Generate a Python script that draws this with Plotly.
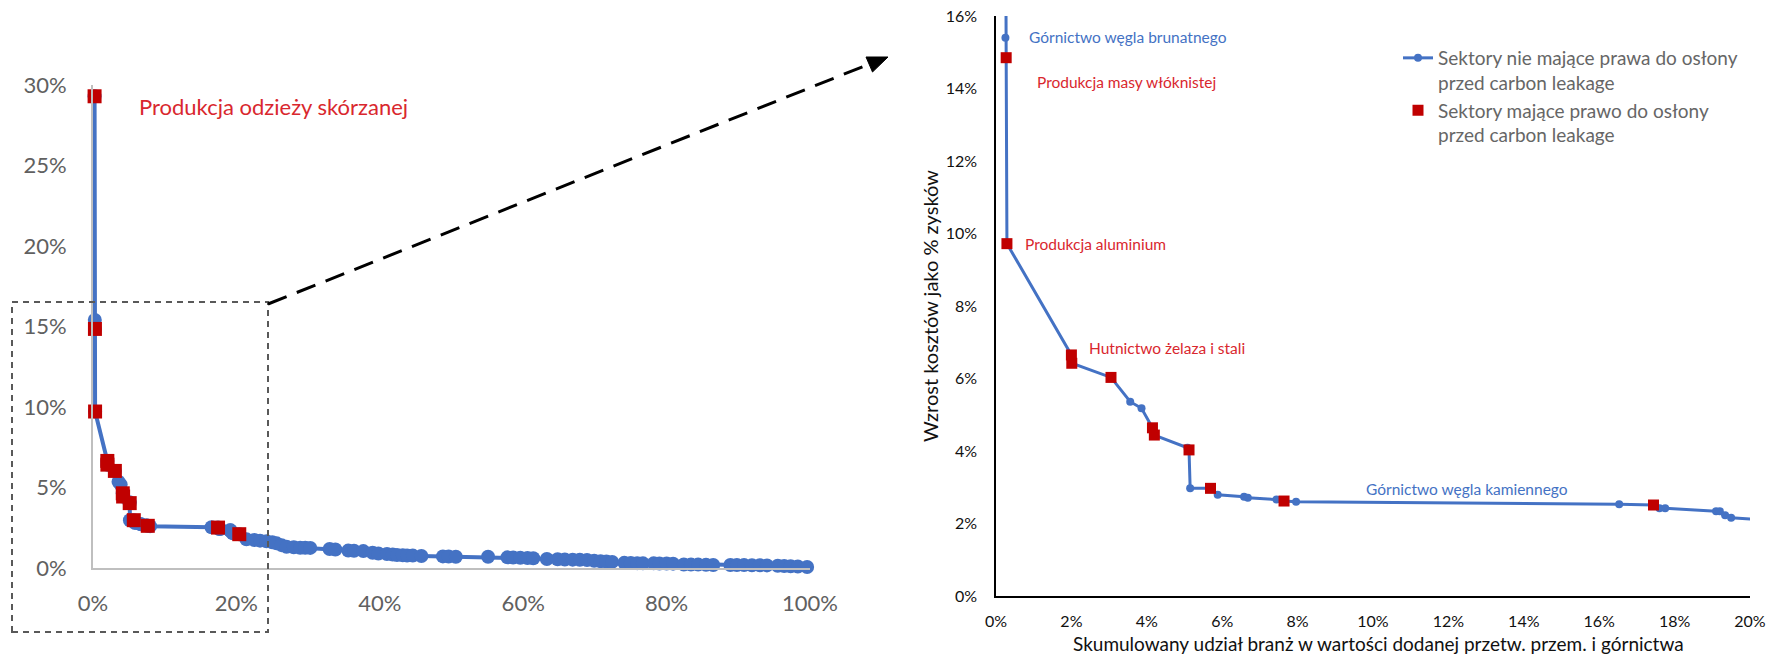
import plotly.graph_objects as go

W, H = 1786, 654

# Sectors ordered by cost increase: cumulative share in value added (%)
cum_share = [
    0.22, 0.25, 0.27, 0.29, 2.00, 2.01, 3.05, 3.56, 3.86, 4.15,
    4.20, 5.08, 5.12, 5.15, 5.69, 5.88, 6.58, 6.68, 7.44, 7.64,
    7.96, 16.53, 17.44, 17.60, 17.75, 19.10, 19.20, 19.34, 19.50, 20.40,
    21.4, 22.5, 23.3, 24.2, 25.0, 25.6, 26.3, 27.0, 28.0, 28.9,
    29.6, 30.3, 33.0, 33.8, 35.6, 36.4, 37.7, 39.0, 39.8, 41.0,
    41.8, 42.4, 43.2, 43.8, 44.6, 45.8, 48.8, 49.6, 50.6, 55.1,
    57.8, 58.6, 59.6, 60.6, 61.4, 63.3, 64.8, 65.8, 66.9, 67.9,
    68.9, 69.9, 70.8, 71.6, 72.4, 74.1, 75.0, 75.9, 76.7, 78.2,
    79.0, 80.0, 80.9, 82.4, 83.4, 84.4, 85.5, 86.5, 88.9, 89.8,
    90.8, 91.9, 93.0, 94.0, 95.5, 96.4, 97.3, 98.3, 99.6,
]
# Cost increase as % of profits
cost_increase = [
    29.3, 15.4, 14.85, 9.72, 6.65, 6.42, 6.03, 5.36, 5.18, 4.64,
    4.44, 4.09, 4.03, 2.97, 2.97, 2.79, 2.74, 2.71, 2.66, 2.62,
    2.60, 2.53, 2.51, 2.42, 2.42, 2.34, 2.34, 2.23, 2.16, 2.10,
    1.78, 1.74, 1.70, 1.66, 1.60, 1.53, 1.42, 1.32, 1.29, 1.26,
    1.26, 1.25, 1.18, 1.15, 1.08, 1.07, 1.05, 0.95, 0.90, 0.87,
    0.84, 0.81, 0.79, 0.78, 0.77, 0.75, 0.72, 0.71, 0.70, 0.70,
    0.66, 0.65, 0.63, 0.62, 0.61, 0.56, 0.54, 0.53, 0.52, 0.51,
    0.50, 0.45, 0.42, 0.40, 0.38, 0.32, 0.31, 0.30, 0.29, 0.29,
    0.28, 0.28, 0.27, 0.22, 0.21, 0.21, 0.20, 0.19, 0.19, 0.18,
    0.18, 0.17, 0.17, 0.16, 0.14, 0.12, 0.11, 0.09, 0.06,
]
# 1 = sector eligible for carbon leakage protection
eligible = [
    1, 0, 1, 1, 1, 1, 1, 0, 0, 1,
    1, 0, 1, 0, 1, 0, 0, 0, 0, 1,
    0, 0, 1, 0, 0, 0, 0, 0, 0, 1,
] + [0] * 69

name_other = "Sektory nie mające prawa do osłony<br>przed carbon leakage"
name_cl = "Sektory mające prawo do osłony<br>przed carbon leakage"

BLUE = "#4472C4"
RED = "#C00000"
RED_TXT = "#D9272E"
FONT = "Lato"

xs = [v / 100 for v in cum_share]
ys = [v / 100 for v in cost_increase]
ex = [x for x, e in zip(xs, eligible) if e]
ey = [y for y, e in zip(ys, eligible) if e]


def pxx(x):
    return x / W


def pxy(y):
    return 1 - y / H


fig = go.Figure()

# Overview panel (whole economy)
fig.add_trace(go.Scatter(
    x=xs, y=ys, mode="lines+markers", xaxis="x", yaxis="y",
    line=dict(color=BLUE, width=4), marker=dict(symbol="circle", size=14, color=BLUE),
    showlegend=False, cliponaxis=False, hoverinfo="skip"))
fig.add_trace(go.Scatter(
    x=ex, y=ey, mode="markers", xaxis="x", yaxis="y",
    marker=dict(symbol="square", size=14, color=RED),
    showlegend=False, cliponaxis=False, hoverinfo="skip"))

# Detail panel (first 20% of value added)
fig.add_trace(go.Scatter(
    x=xs, y=ys, mode="lines+markers", xaxis="x2", yaxis="y2", name=name_other,
    line=dict(color=BLUE, width=3), marker=dict(symbol="circle", size=8, color=BLUE)))
fig.add_trace(go.Scatter(
    x=ex, y=ey, mode="markers", xaxis="x2", yaxis="y2", name=name_cl,
    marker=dict(symbol="square", size=11, color=RED)))

left_tick = dict(size=22, color="#606060", family=FONT)
right_tick = dict(size=16, color="#111111", family=FONT)

fig.update_layout(
    width=W, height=H,
    margin=dict(l=0, r=0, t=0, b=0, pad=0, autoexpand=False),
    paper_bgcolor="white", plot_bgcolor="white",
    font=dict(family=FONT),
    xaxis=dict(domain=[pxx(93), pxx(810)], range=[0, 1.0], anchor="y",
               tickvals=[0, 0.2, 0.4, 0.6, 0.8, 1.0], tickformat=".0%",
               showgrid=False, zeroline=False, showline=True,
               linecolor="#BFBFBF", linewidth=2, ticks="",
               tickfont=left_tick, ticklabelstandoff=15, automargin=False),
    yaxis=dict(domain=[pxy(568), pxy(85)], range=[0, 0.30], anchor="x",
               tickvals=[0, 0.05, 0.10, 0.15, 0.20, 0.25, 0.30], tickformat=".0%",
               showgrid=False, zeroline=False, showline=True,
               linecolor="#BFBFBF", linewidth=2, ticks="",
               tickfont=left_tick, ticklabelstandoff=20, automargin=False),
    xaxis2=dict(domain=[pxx(996), pxx(1750)], range=[0, 0.20], anchor="y2",
                dtick=0.02, tickformat=".0%",
                showgrid=False, zeroline=False, showline=True,
                linecolor="#000000", linewidth=1.5, ticks="",
                tickfont=right_tick, ticklabelstandoff=10, automargin=False),
    yaxis2=dict(domain=[pxy(596), pxy(16)], range=[0, 0.16], anchor="x2",
                dtick=0.02, tickformat=".0%",
                showgrid=False, zeroline=False, showline=True,
                linecolor="#000000", linewidth=1.5, ticks="",
                tickfont=right_tick, ticklabelstandoff=14, automargin=False),
    legend=dict(x=pxx(1398), y=pxy(39), xanchor="left", yanchor="top",
                font=dict(size=19, color="#666666", family=FONT),
                valign="top", itemwidth=30, tracegroupgap=2,
                bgcolor="rgba(0,0,0,0)"),
    showlegend=True,
)

# Axis titles of the detail panel
fig.add_annotation(xref="paper", yref="paper", x=pxx(1378), y=pxy(643),
                   text="Skumulowany udział branż w wartości dodanej przetw. przem. i górnictwa",
                   showarrow=False, font=dict(size=19, color="#111111", family=FONT),
                   xanchor="center", yanchor="middle")
fig.add_annotation(xref="paper", yref="paper", x=pxx(930), y=pxy(306),
                   text="Wzrost kosztów jako % zysków", textangle=-90,
                   showarrow=False, font=dict(size=20, color="#111111", family=FONT),
                   xanchor="center", yanchor="middle")

# Sector labels
labels = [
    (137, 107, "Produkcja odzieży skórzanej", RED_TXT, 22),
    (1027, 37, "Górnictwo węgla brunatnego", BLUE, 15.5),
    (1035, 82, "Produkcja masy włóknistej", RED_TXT, 15.5),
    (1023, 244, "Produkcja aluminium", RED_TXT, 15.5),
    (1087, 348, "Hutnictwo żelaza i stali", RED_TXT, 15.5),
    (1364, 489, "Górnictwo węgla kamiennego", BLUE, 15.5),
]
for lx, ly, txt, col, sz in labels:
    fig.add_annotation(xref="paper", yref="paper", x=pxx(lx), y=pxy(ly), text=txt,
                       showarrow=False, xanchor="left", yanchor="middle",
                       font=dict(size=sz, color=col, family=FONT))

# Dashed frame around the zoomed region and the arrow pointing to the detail panel
fig.add_shape(type="rect", xref="paper", yref="paper",
              x0=pxx(12), x1=pxx(268), y0=pxy(632), y1=pxy(302),
              line=dict(color="#595959", width=2, dash="6px,5px"))
fig.add_shape(type="line", xref="paper", yref="paper",
              x0=pxx(268), y0=pxy(304), x1=pxx(872), y1=pxy(63),
              line=dict(color="#000000", width=3, dash="20px,11px"))
tip = (888, 57)
b1 = (872.5, 72)
b2 = (866, 57)
fig.add_shape(type="path", xref="paper", yref="paper",
              path=f"M {pxx(tip[0])},{pxy(tip[1])} L {pxx(b1[0])},{pxy(b1[1])} "
                   f"L {pxx(b2[0])},{pxy(b2[1])} Z",
              fillcolor="#000000", line=dict(color="#000000", width=1))

fig.write_html("out.html")
